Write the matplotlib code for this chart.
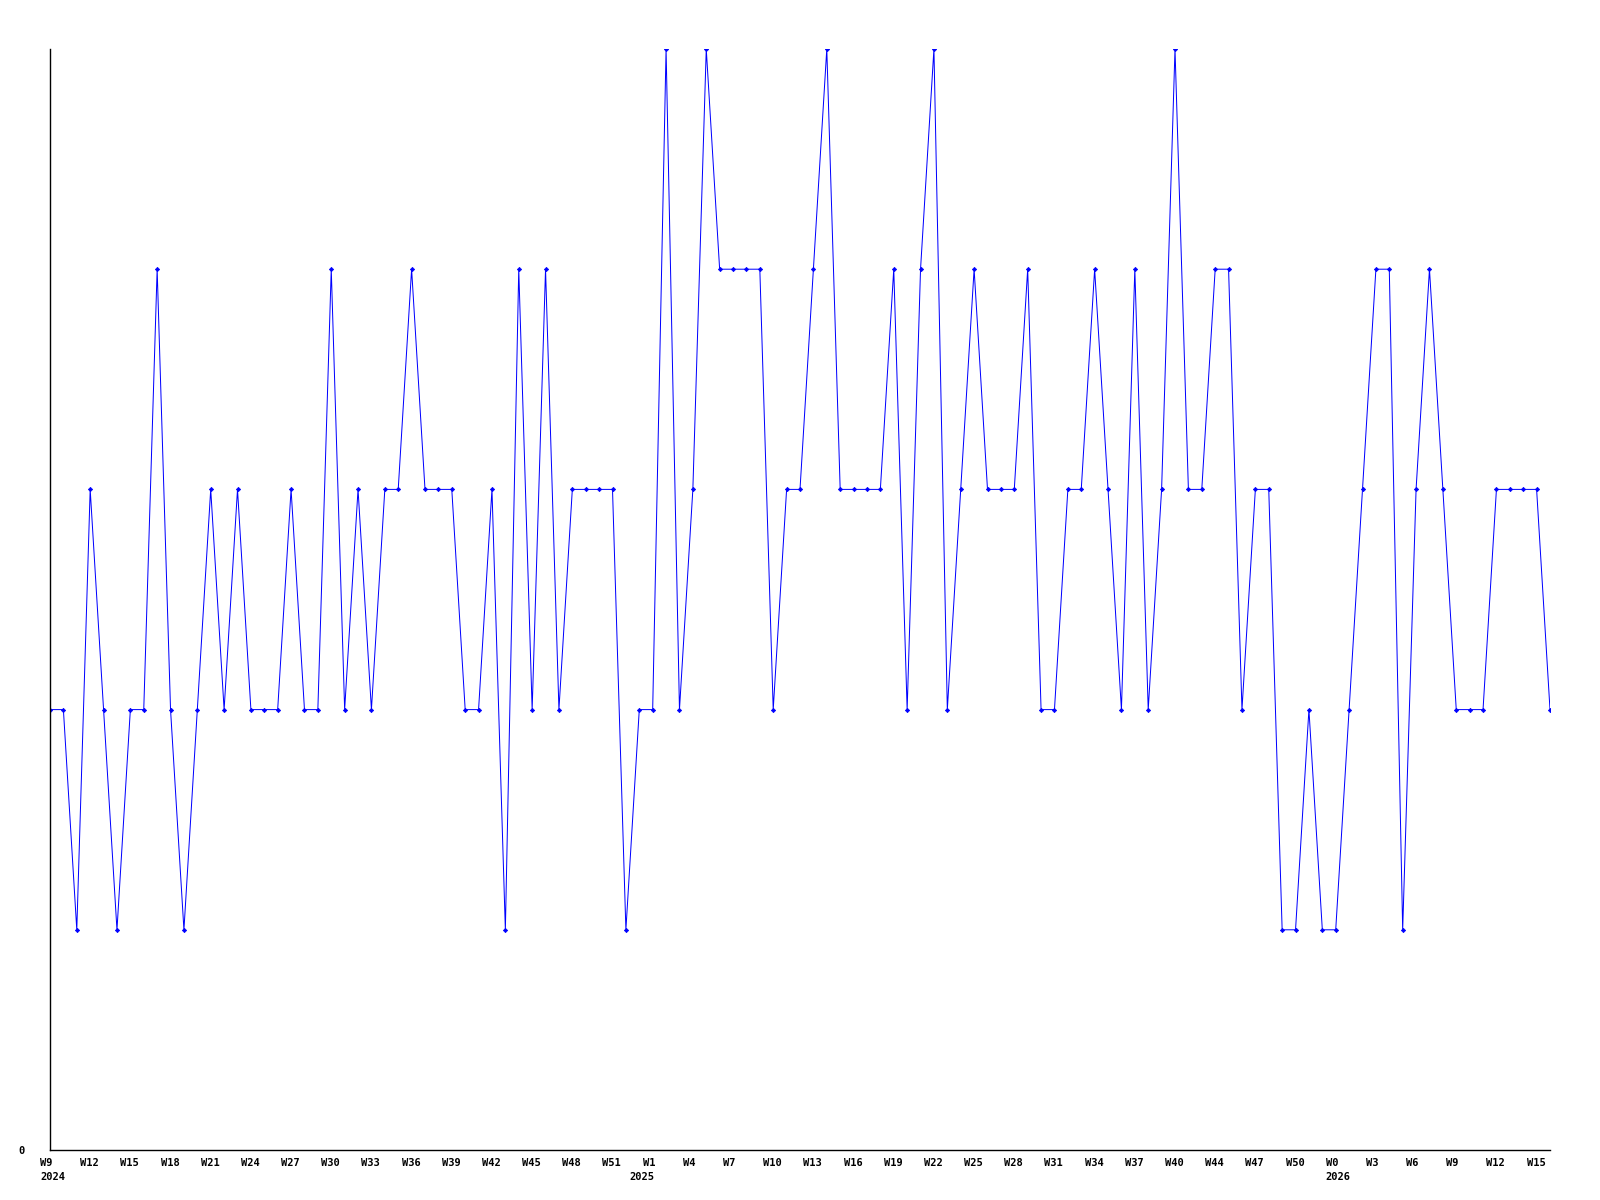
#!/usr/bin/env python3
import matplotlib
matplotlib.use("Agg")
import matplotlib.pyplot as plt
from matplotlib.transforms import ScaledTranslation

# weekly counts, one per point (2024 W9 .. 2026 W16)
values = [
    2, 2, 1, 3, 2, 1, 2, 2, 4, 2,
    1, 2, 3, 2, 3, 2, 2, 2, 3, 2,
    2, 4, 2, 3, 2, 3, 3, 4, 3, 3,
    3, 2, 2, 3, 1, 4, 2, 4, 2, 3,
    3, 3, 3, 1, 2, 2, 5, 2, 3, 5,
    4, 4, 4, 4, 2, 3, 3, 4, 5, 3,
    3, 3, 3, 4, 2, 4, 5, 2, 3, 4,
    3, 3, 3, 4, 2, 2, 3, 3, 4, 3,
    2, 4, 2, 3, 5, 3, 3, 4, 4, 2,
    3, 3, 1, 1, 2, 1, 1, 2, 3, 4,
    4, 1, 3, 4, 3, 2, 2, 2, 3, 3,
    3, 3, 2,
]

week_labels = [
    "W9", "W12", "W15", "W18", "W21", "W24", "W27", "W30", "W33", "W36",
    "W39", "W42", "W45", "W48", "W51", "W1", "W4", "W7", "W10", "W13",
    "W16", "W19", "W22", "W25", "W28", "W31", "W34", "W37", "W40", "W44",
    "W47", "W50", "W0", "W3", "W6", "W9", "W12", "W15",
]
label_step = 3

years = ["2024", "2025", "2026"]
year_pos = [0, 44, 96]

fig = plt.figure(figsize=(16, 12), dpi=100)
ax = fig.add_axes([50 / 1600, 50 / 1200, 1500 / 1600, 1101 / 1200])

x = list(range(len(values)))
ax.plot(x, values, color="#0000ff", linewidth=0.72, marker="D", markersize=2.2,
        markeredgewidth=0.5)

ax.set_xlim(0, len(values) - 1)
ax.set_ylim(0, 5)

for side in ("top", "right"):
    ax.spines[side].set_visible(False)
for side in ("left", "bottom"):
    ax.spines[side].set_linewidth(1.0)
    ax.spines[side].set_color("black")

font = dict(family="DejaVu Sans Mono", weight="bold", size=7.5)

ax.set_yticks([0])
ax.set_yticklabels(["0"], **font)
ax.tick_params(axis="y", length=0, pad=18)

ticks = [i * label_step for i in range(len(week_labels))]
ax.set_xticks(ticks)
ax.set_xticklabels(week_labels, **font)
ax.tick_params(axis="x", length=0, pad=6)
shift = ScaledTranslation(-10 / 100, 0, fig.dpi_scale_trans)
for lbl in ax.get_xticklabels():
    lbl.set_horizontalalignment("left")
    lbl.set_transform(lbl.get_transform() + shift)

ytrans = ax.get_xaxis_transform() + shift
for name, pos in zip(years, year_pos):
    ax.text(pos, -27 / 1101, name, transform=ytrans, ha="left", va="center", **font)

fig.savefig("out.png", dpi=100, facecolor="white")
